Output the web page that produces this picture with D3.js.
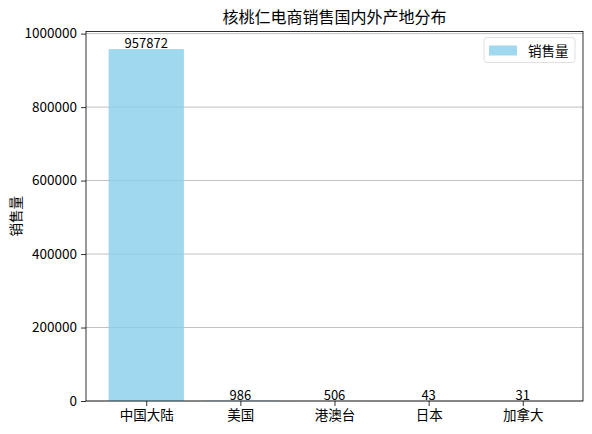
<!DOCTYPE html>
<html>
<head>
<meta charset="utf-8">
<script src="https://cdn.jsdelivr.net/npm/d3@7"></script>
<style>
  body { margin: 0; background: #fff; }
  svg text { font-family: "Noto Sans CJK SC", "DejaVu Sans", sans-serif; fill: #000; }
</style>
</head>
<body>
<div id="chart"></div>
<script>
// data
var regions = ['中国大陆', '美国', '港澳台', '日本', '加拿大'];
var sales = [957872, 986, 506, 43, 31];
var yTicks = [0, 200000, 400000, 600000, 800000, 1000000];

var width = 592, height = 434;
var margin = {top: 31.5, right: 9, bottom: 33, left: 86};
var w = width - margin.left - margin.right,
    h = height - margin.top - margin.bottom;

var svg = d3.select('#chart').append('svg')
    .attr('width', width)
    .attr('height', height);

var g = svg.append('g')
    .attr('transform', 'translate(' + margin.left + ',' + margin.top + ')');

// matplotlib style limits: bar width 0.8, 5% margins
var x = d3.scaleLinear().domain([-0.64, regions.length - 1 + 0.64]).range([0, w]);
var y = d3.scaleLinear().domain([0, d3.max(sales) * 1.05]).range([h, 0]);
var barW = x(0.8) - x(0);

// grid behind bars
g.selectAll('.grid')
    .data(yTicks)
    .enter().append('line')
    .attr('x1', 0).attr('x2', w)
    .attr('y1', d => y(d)).attr('y2', d => y(d))
    .style('stroke', '#b0b0b0')
    .style('stroke-width', 0.8);

g.selectAll('.bar')
    .data(sales)
    .enter().append('rect')
    .attr('class', 'bar')
    .attr('x', (d, i) => x(i) - barW / 2)
    .attr('width', barW)
    .attr('y', d => y(d))
    .attr('height', d => h - y(d))
    .style('fill', 'skyblue')
    .style('opacity', 0.8);

// value labels
g.selectAll('.val')
    .data(sales)
    .enter().append('text')
    .attr('x', (d, i) => x(i))
    .attr('y', d => y(d) - 1)
    .attr('text-anchor', 'middle')
    .style('font-size', '13px')
    .text(d => d);

// axes
var yAxis = g.append('g')
    .call(d3.axisLeft(y).tickValues(yTicks).tickSize(5).tickPadding(4).tickFormat(d3.format('d')));
var xAxis = g.append('g')
    .attr('transform', 'translate(0,' + h + ')')
    .call(d3.axisBottom(x).tickValues(d3.range(regions.length)).tickSize(5).tickPadding(4)
        .tickFormat(i => regions[i]));

[xAxis, yAxis].forEach(a => {
    a.select('.domain').remove();
    a.selectAll('line').style('stroke', '#000').style('stroke-width', 0.8);
    a.selectAll('text').style('font-size', '13.5px').style('font-family', '"Noto Sans CJK SC", sans-serif');
});

// frame
g.append('rect')
    .attr('width', w).attr('height', h)
    .style('fill', 'none')
    .style('stroke', '#000')
    .style('stroke-width', 0.8);

// title
svg.append('text')
    .attr('x', margin.left + w / 2)
    .attr('y', 23)
    .attr('text-anchor', 'middle')
    .style('font-size', '16px')
    .text('核桃仁电商销售国内外产地分布');

// y label
svg.append('text')
    .attr('transform', 'translate(21,' + (margin.top + h / 2) + ') rotate(-90)')
    .attr('text-anchor', 'middle')
    .style('font-size', '13.5px')
    .text('销售量');

// legend
var lg = g.append('g').attr('transform', 'translate(' + (w - 99) + ',6)');
lg.append('rect')
    .attr('width', 91).attr('height', 25).attr('rx', 3)
    .style('fill', '#fff').style('opacity', 0.8)
    .style('stroke', '#d9d9d9').style('stroke-width', 1);
lg.append('rect')
    .attr('x', 5).attr('y', 8)
    .attr('width', 28).attr('height', 10)
    .style('fill', 'skyblue').style('opacity', 0.8);
lg.append('text')
    .attr('x', 44).attr('y', 18)
    .style('font-size', '13.5px')
    .text('销售量');
</script>
</body>
</html>
